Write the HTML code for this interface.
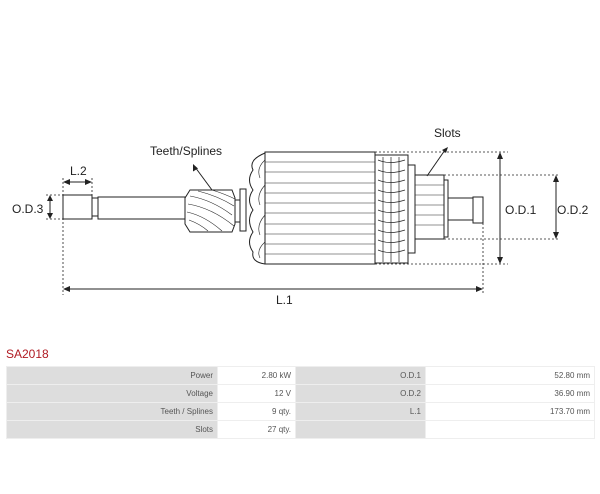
<!DOCTYPE html>
<html><head><style>
body{margin:0;background:#fff;width:600px;height:494px;overflow:hidden;font-family:"Liberation Sans",sans-serif}
.t{position:absolute;left:6px;top:366px;border-collapse:collapse;font-size:8px;color:#555;table-layout:fixed;width:588px}
.t td{height:18px;border:1px solid #eee;padding:0 4px;text-align:right;box-sizing:border-box}
.g{background:#ddd}
</style></head><body>
<svg width="600" height="340" style="position:absolute;left:0;top:0" font-family="Liberation Sans" font-size="12" fill="none" stroke="#222" stroke-width="1">
<rect x="63" y="195" width="29" height="24"/>
<rect x="92" y="198" width="6" height="18"/>
<rect x="98" y="197" width="87" height="22"/>
<path d="M185,198 L190,190 L232,190 L235,198 L235,224 L232,232 L190,232 L185,224Z"/>
<g stroke-width="0.6"><path d="M190,196 Q212,200 232,215 M188,204 Q212,208 234,226 M187,212 Q205,216 222,231 M189,220 Q200,224 208,231 M198,191 Q218,196 234,206 M212,190 Q225,194 235,199"/></g>
<rect x="235" y="200" width="5" height="22"/>
<rect x="240" y="189" width="6" height="42"/>
<path d="M265,153 Q248,160 253,170 Q246,180 253,190 Q246,200 253,210 Q246,220 253,232 Q246,242 253,252 Q251,262 265,264"/>
<path d="M265,160 Q256,168 260,178 M265,185 Q256,195 260,205 M265,215 Q256,225 260,235 M265,242 Q256,250 260,258" stroke-width="0.6"/>
<rect x="265" y="152" width="110" height="112"/>
<g stroke-width="0.5"><path d="M265,162H375M265,172H375M265,183H375M265,193H375M265,203H375M265,213H375M265,224H375M265,234H375M265,244H375M265,254H375"/></g>
<rect x="375" y="155" width="33" height="108"/>
<g stroke-width="0.7"><path d="M378,160 Q390,165 405,160 M378,170 Q390,175 405,170 M378,180 Q390,185 405,180 M378,190 Q390,195 405,190 M378,200 Q390,205 405,200 M378,210 Q390,215 405,210 M378,220 Q390,225 405,220 M378,230 Q390,235 405,230 M378,240 Q390,245 405,240 M378,250 Q390,255 405,250 M383,157V262 M391,157V262 M399,157V262"/></g>
<rect x="408" y="165" width="7" height="88"/>
<rect x="415" y="175" width="29" height="64"/>
<g stroke-width="0.5"><path d="M415,185H444M415,195H444M415,205H444M415,215H444M415,225H444"/></g>
<rect x="444" y="180" width="4" height="57"/>
<rect x="448" y="198" width="25" height="22"/>
<rect x="473" y="197" width="10" height="26"/>
<g stroke-dasharray="2,2" stroke-width="0.8">
<path d="M375,152H508M375,264H508M444,175H558M444,239H558M46,195H63M46,219H63M63,178V295M92,178V195M483,223V295"/>
</g>
<path d="M500,155V261M556,178V236M50,198V216M66,182H89M66,289H480M212,190L195,167M427,176L445,150"/>
<g fill="#222" stroke="none">
<path d="M500,152l-3,7h6zM500,264l-3,-7h6zM556,175l-3,7h6zM556,239l-3,-7h6zM50,195l-3,6h6zM50,219l-3,-6h6zM63,182l7,-3v6zM92,182l-7,-3v6zM63,289l7,-3v6zM483,289l-7,-3v6z"/>
<path d="M193,164l0,7.5l5,-3z"/>
<path d="M448,147l-6,3l4,3z"/>
<text x="12" y="213">O.D.3</text><text x="70" y="175">L.2</text>
<text x="276" y="304">L.1</text><text x="505" y="214">O.D.1</text><text x="557" y="214">O.D.2</text>
<text x="150" y="155">Teeth/Splines</text><text x="434" y="137">Slots</text>
</g>
</svg>
<div style="position:absolute;left:6px;top:347px;color:#b01a22;font-size:12px">SA2018</div>
<table class="t">
<colgroup><col style="width:211px"><col style="width:78px"><col style="width:130px"><col style="width:169px"></colgroup>
<tr><td class="g">Power</td><td>2.80 kW</td><td class="g">O.D.1</td><td>52.80 mm</td></tr>
<tr><td class="g">Voltage</td><td>12 V</td><td class="g">O.D.2</td><td>36.90 mm</td></tr>
<tr><td class="g">Teeth / Splines</td><td>9 qty.</td><td class="g">L.1</td><td>173.70 mm</td></tr>
<tr><td class="g">Slots</td><td>27 qty.</td><td class="g"></td><td></td></tr>
</table>
</body></html>
